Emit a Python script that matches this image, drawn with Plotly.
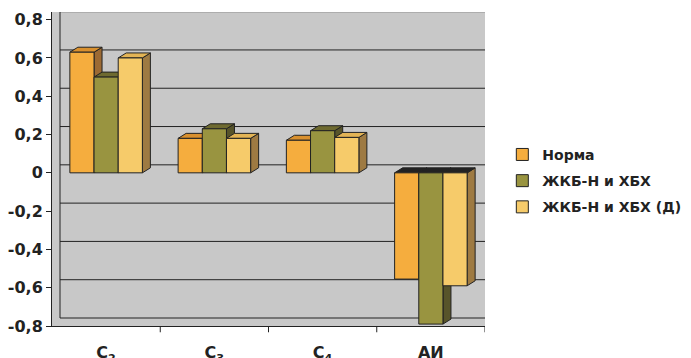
import plotly.graph_objects as go

categories = ["C<sub>2</sub>", "C<sub>3</sub>", "C<sub>4</sub>", "АИ"]
series_names = ["Норма", "ЖКБ-Н и ХБХ", "ЖКБ-Н и ХБХ (Д)"]
norma = [0.63, 0.18, 0.17, -0.555]
zhkb = [0.50, 0.23, 0.22, -0.79]
zhkb_d = [0.60, 0.18, 0.185, -0.59]
y_ticks = [-0.8, -0.6, -0.4, -0.2, 0, 0.2, 0.4, 0.6, 0.8]
y_ticktext = ["-0,8", "-0,6", "-0,4", "-0,2", "0", "0,2", "0,4", "0,6", "0,8"]

front = ["#F5AD3E", "#999440", "#F6CB6A"]
topc = ["#D9902E", "#6E6A30", "#E3B455"]
sidec = ["#9C6A33", "#57542A", "#9E7A42"]

W, H = 691, 358
ml, mr, mt, mb = 52, 206, 12, 32
pw, ph = W - ml - mr, H - mt - mb
yr = [-0.8, 0.84]
ppx = pw / 4.0
ppy = ph / (yr[1] - yr[0])

bargap = 0.33
bw = (1 - bargap) / 3
dx_bar, dy_bar = 8 / ppx, 5 / ppy
dx_wall, dy_wall = 8 / ppx, 8 / ppy

FONT = "DejaVu Sans, Verdana, sans-serif"

fig = go.Figure()
xs = list(range(len(categories)))
data = [norma, zhkb, zhkb_d]
for i, (name, vals) in enumerate(zip(series_names, data)):
    fig.add_trace(go.Bar(
        x=xs, y=vals, name=f"<b>{name}</b>", legendgroup=f"g{i}",
        marker=dict(color=front[i], line=dict(color="#222222", width=1)),
    ))

shapes = []
for t in y_ticks:
    shapes.append(dict(type="line", xref="x", yref="y",
                       x0=-0.5 + dx_wall, x1=3.5, y0=t + dy_wall, y1=t + dy_wall,
                       line=dict(color="#222222", width=1), layer="below"))
shapes.append(dict(type="line", xref="x", yref="y", x0=-0.5 + dx_wall, x1=-0.5 + dx_wall,
                   y0=yr[0] + dy_wall, y1=yr[1], line=dict(color="#222222", width=1), layer="below"))
for i, vals in enumerate(data):
    for c, v in enumerate(vals):
        x0 = c - (1 - bargap) / 2 + i * bw
        x1 = x0 + bw
        top = max(v, 0)
        bot = min(v, 0)
        shapes.append(dict(type="path", xref="x", yref="y",
                           path=f"M{x1},{bot} L{x1 + dx_bar},{bot + dy_bar} L{x1 + dx_bar},{top + dy_bar} L{x1},{top} Z",
                           fillcolor=sidec[i], line=dict(color="#222222", width=1), layer="between"))
        tc = topc[i] if v >= 0 else "#222222"
        shapes.append(dict(type="path", xref="x", yref="y",
                           path=f"M{x0},{top} L{x0 + dx_bar},{top + dy_bar} L{x1 + dx_bar},{top + dy_bar} L{x1},{top} Z",
                           fillcolor=tc, line=dict(color="#222222", width=1), layer="between"))

fig.update_layout(
    width=W, height=H,
    margin=dict(l=ml, r=mr, t=mt, b=mb, autoexpand=False),
    paper_bgcolor="white",
    plot_bgcolor="#C8C8C8",
    barmode="group", bargap=bargap, bargroupgap=0,
    font=dict(family=FONT, size=16, color="#222222"),
    showlegend=True,
    legend=dict(x=1.04, y=0.596, xanchor="left", yanchor="top",
                font=dict(size=14, color="#222222", family=FONT),
                bgcolor="rgba(0,0,0,0)", itemwidth=30, tracegroupgap=5),
    shapes=shapes,
    xaxis=dict(range=[-0.5, 3.5], tickmode="array", tickvals=xs, ticktext=[f"<b>{c}</b>" for c in categories],
               showgrid=False, zeroline=False, showline=True, linecolor="#222222", automargin=False,
               ticks="", ticklabelstandoff=12, tickfont=dict(size=16)),
    yaxis=dict(range=yr, tickmode="array", tickvals=y_ticks, ticktext=[f"<b>{t}</b>" for t in y_ticktext],
               showgrid=False, zeroline=False, showline=True, linecolor="#222222", automargin=False,
               ticks="outside", ticklen=5, tickcolor="#222222", tickfont=dict(size=16)),
)
for b in [0.5, 1.5, 2.5, 3.5]:
    fig.add_shape(type="line", xref="x", yref="paper", x0=b, x1=b, y0=0, y1=-0.02,
                  line=dict(color="#222222", width=1))

fig.write_html("out.html", config={"displayModeBar": False},
               post_script="document.body.style.margin='0';")
